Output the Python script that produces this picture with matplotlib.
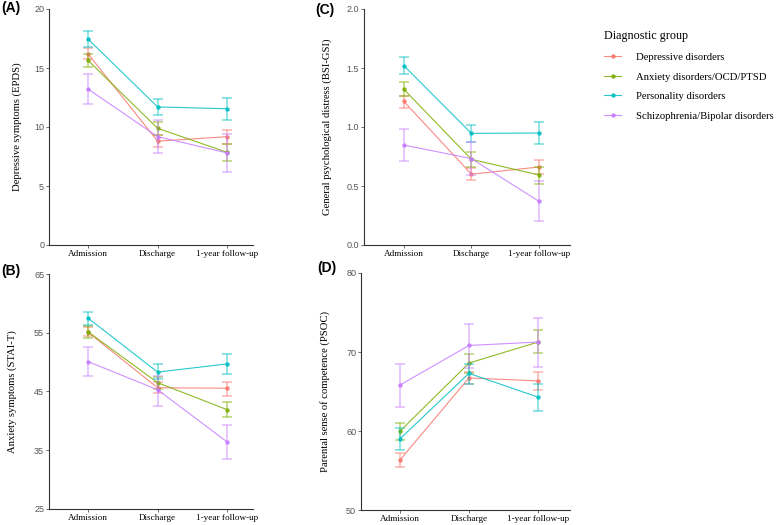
import matplotlib.pyplot as plt
from matplotlib.lines import Line2D

timepoints = ["Admission", "Discharge", "1-year follow-up"]
groups = ["Depressive disorders", "Anxiety disorders/OCD/PTSD",
          "Personality disorders", "Schizophrenia/Bipolar disorders"]
colors = ["#F8766D", "#7CAE00", "#00BFC4", "#C77CFF"]

# (A) EPDS: mean, lower, upper per group
epds_mean = [[16.2, 8.8, 9.18], [15.65, 9.89, 7.85], [17.46, 11.7, 11.55], [13.22, 9.18, 7.8]]
epds_low = [[15.76, 8.3, 8.58], [15.11, 9.3, 7.1], [16.78, 11.0, 10.62], [11.95, 7.8, 6.2]]
epds_high = [[16.67, 9.3, 9.77], [16.19, 10.45, 8.58], [18.1, 12.37, 12.43], [14.52, 10.6, 9.4]]

# (B) STAI-T
stai_mean = [[55.1, 45.63, 45.56], [55.17, 46.5, 41.9], [57.5, 48.3, 49.7], [50.1, 45.3, 36.4]]
stai_low = [[54.4, 44.8, 44.3], [54.15, 45.5, 40.6], [56.4, 47.15, 48.05], [47.66, 42.6, 33.5]]
stai_high = [[56.0, 46.6, 46.7], [56.2, 47.5, 43.25], [58.6, 49.6, 51.4], [52.5, 47.6, 39.35]]

# (C) BSI-GSI
gsi_mean = [[1.217, 0.6, 0.661], [1.32, 0.726, 0.593], [1.52, 0.946, 0.949], [0.847, 0.732, 0.37]]
gsi_low = [[1.164, 0.55, 0.60], [1.263, 0.664, 0.52], [1.452, 0.87, 0.853], [0.709, 0.59, 0.206]]
gsi_high = [[1.263, 0.655, 0.72], [1.378, 0.785, 0.665], [1.59, 1.014, 1.043], [0.983, 0.87, 0.54]]

# (D) PSOC
psoc_mean = [[56.3, 66.72, 66.34], [59.95, 68.6, 71.26], [58.98, 67.3, 64.28], [65.8, 70.83, 71.26]]
psoc_low = [[55.4, 65.9, 65.16], [58.9, 67.4, 69.87], [57.64, 66.0, 62.5], [63.06, 67.94, 68.1]]
psoc_high = [[57.2, 67.5, 67.48], [61.0, 69.75, 72.77], [60.33, 68.5, 66.0], [68.44, 73.57, 74.3]]


def draw_panel(ax, means, lows, highs, ylabel, yticks, ylim, xlim, label_x):
    x = [1, 2, 3]
    for m, lo, hi, c in zip(means, lows, highs, colors):
        yerr = [[a - b for a, b in zip(m, lo)], [b - a for a, b in zip(m, hi)]]
        ax.errorbar(x, m, yerr=yerr, fmt="none", ecolor=c, alpha=0.5,
                    elinewidth=1.2, capsize=3.6, capthick=1.2)
        ax.plot(x, m, color=c, lw=0.8, marker="o", ms=2.2, alpha=0.85)
    ax.set_xlim(*xlim)
    ax.set_ylim(*ylim)
    ax.set_xticks(x)
    ax.set_xticklabels(timepoints, family="Liberation Serif", fontsize=6.6)
    ax.set_yticks(yticks)
    ax.tick_params(axis="y", labelsize=6.5, labelcolor="#555555", colors="#555555",
                   length=2, width=0.6, pad=1.5)
    ax.tick_params(axis="x", length=2, width=0.6, colors="#555555", labelcolor="black", pad=1.5)
    for lab in ax.get_yticklabels():
        lab.set_family("Liberation Sans")
    ax.spines["top"].set_visible(False)
    ax.spines["right"].set_visible(False)
    for side in ["left", "bottom"]:
        ax.spines[side].set_color("#333333")
        ax.spines[side].set_linewidth(0.8)
    ax.set_ylabel(ylabel, family="Liberation Serif", fontsize=7.7)
    ax.yaxis.set_label_coords(label_x, 0.5)


fig = plt.figure(figsize=(7.79, 5.25), dpi=100)

axA = fig.add_axes([49 / 779, 1 - 245 / 525, 204 / 779, 236 / 525])
axB = fig.add_axes([49 / 779, 1 - 509 / 525, 204 / 779, 235 / 525])
axC = fig.add_axes([364 / 779, 1 - 245 / 525, 206 / 779, 236 / 525])
axD = fig.add_axes([361 / 779, 1 - 510 / 525, 209 / 779, 237 / 525])

draw_panel(axA, epds_mean, epds_low, epds_high, "Depressive symptoms (EPDS)",
           [0, 5, 10, 15, 20], (0, 20), (0.44, 3.37), -0.132)
draw_panel(axB, stai_mean, stai_low, stai_high, "Anxiety symptoms (STAI-T)",
           [25, 35, 45, 55, 65], (25, 65), (0.44, 3.37), -0.155)
draw_panel(axC, gsi_mean, gsi_low, gsi_high, "General psychological distress (BSI-GSI)",
           [0.0, 0.5, 1.0, 1.5, 2.0], (0, 2), (0.41, 3.46), -0.155)
axC.set_yticklabels(["0.0", "0.5", "1.0", "1.5", "2.0"])
draw_panel(axD, psoc_mean, psoc_low, psoc_high, "Parental sense of competence (PSOC)",
           [50, 60, 70, 80], (50, 80), (0.44, 3.46), -0.148)

for tag, (px, py) in zip(["(A)", "(B)", "(C)", "(D)"], [(1, 8), (1, 271), (315, 10), (317, 268)]):
    fig.text(px / 779, 1 - py / 525, tag, fontsize=10, fontweight="bold",
             family="Liberation Sans", va="center", ha="left")

handles = [Line2D([0], [0], color=c, lw=0.8, marker="o", ms=2.2, alpha=0.85) for c in colors]
leg = fig.legend(handles, groups, loc="upper left", bbox_to_anchor=(600 / 779, 1 - 26 / 525),
                 frameon=False, title="Diagnostic group", handlelength=1.6,
                 prop={"family": "Liberation Serif", "size": 7.7}, labelspacing=0.95,
                 handletextpad=1.4, borderaxespad=0)
leg.get_title().set_family("Liberation Serif")
leg.get_title().set_fontsize(8.7)
leg._legend_box.align = "left"

fig.savefig("out.png", dpi=100)
